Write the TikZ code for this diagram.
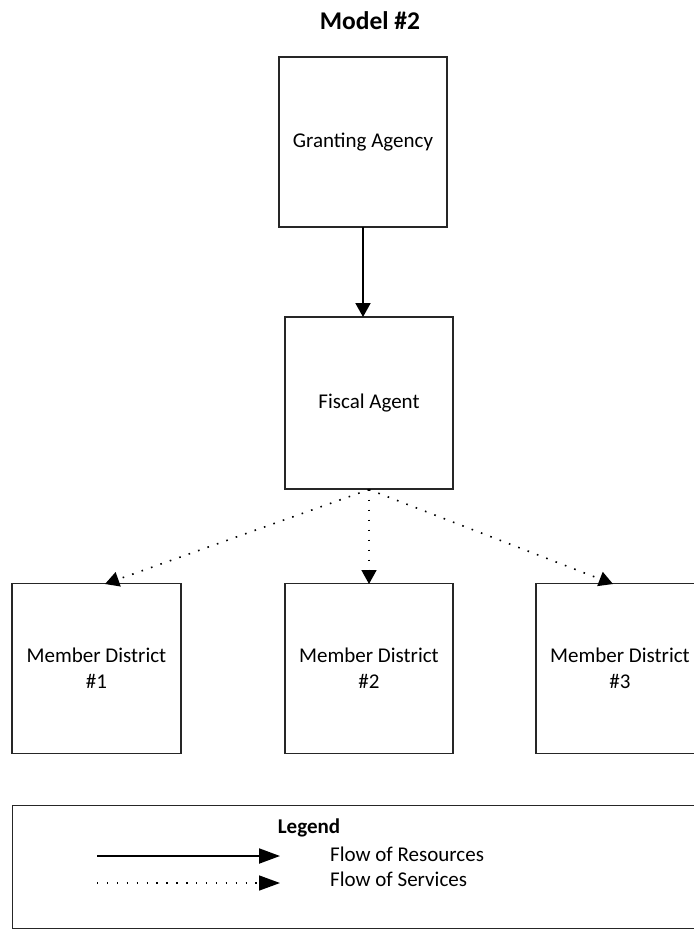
\documentclass[tikz,border=0pt]{standalone}
\usepackage{fontspec}
\setmainfont{Carlito}
\usetikzlibrary{arrows.meta}
\tikzset{
  box/.style={draw=black!85, line width=1.1pt, minimum width=168pt, minimum height=170pt, inner sep=0pt, align=center, font=\fontsize{21}{26}\selectfont},
  res/.style={line width=2pt, -{Triangle[length=14pt,width=15pt]}},
  serv/.style={line width=1.6pt, dash pattern=on 1.6pt off 8.4pt, -{Triangle[length=14pt,width=15pt]}},
  lbl/.style={font=\fontsize{21}{26}\selectfont, anchor=west, inner sep=0pt},
}
\begin{document}
\begin{tikzpicture}[x=1pt,y=-1pt]
\useasboundingbox (0,0) rectangle (694,930);
\clip (0,0) rectangle (694,930);
\node[font=\bfseries\fontsize{25.5}{30}\selectfont, inner sep=0pt] (title) at (370,21) {Model \#2};
\node[box] (grant) at (363,142) {Granting Agency};
\node[box, minimum height=172pt] (fiscal) at (369,403) {Fiscal Agent};
\node[box, minimum width=169pt] (m1) at (96.5,668.5) {Member District\\\#1};
\node[box] (m2) at (369,668.5) {Member District\\\#2};
\node[box] (m3) at (620,668.5) {Member District\\\#3};
\coordinate (ga) at (363,227);
\coordinate (fa) at (363,317);
\coordinate (t1) at (105,584);
\coordinate (t2) at (369,584);
\coordinate (t3) at (613,584);
\draw[res] (ga) -- (fa);
\draw[serv] (fiscal.south) -- (t1);
\draw[serv] (fiscal.south) -- (t2);
\draw[serv] (fiscal.south) -- (t3);
% legend
\node[draw=black!85, line width=1.1pt, minimum width=700pt, minimum height=123pt, anchor=north west, inner sep=0pt] (legend) at (12,805) {};
\node[font=\bfseries\fontsize{21}{26}\selectfont, inner sep=0pt] (ltitle) at (309,828) {Legend};
\coordinate (ls1) at (97,856);
\coordinate (le1) at (280,856);
\coordinate (ls2) at (97,883);
\coordinate (le2) at (280,883);
\draw[res, -{Triangle[length=21pt,width=15pt]}] (ls1) -- (le1);
\draw[serv, dash pattern=on 1.4pt off 8.5pt, -{Triangle[length=21pt,width=15pt]}] (ls2) -- (le2);
\node[lbl] (lr) at (330,854) {Flow of Resources};
\node[lbl] (lsv) at (330,879) {Flow of Services};
\end{tikzpicture}
\end{document}
